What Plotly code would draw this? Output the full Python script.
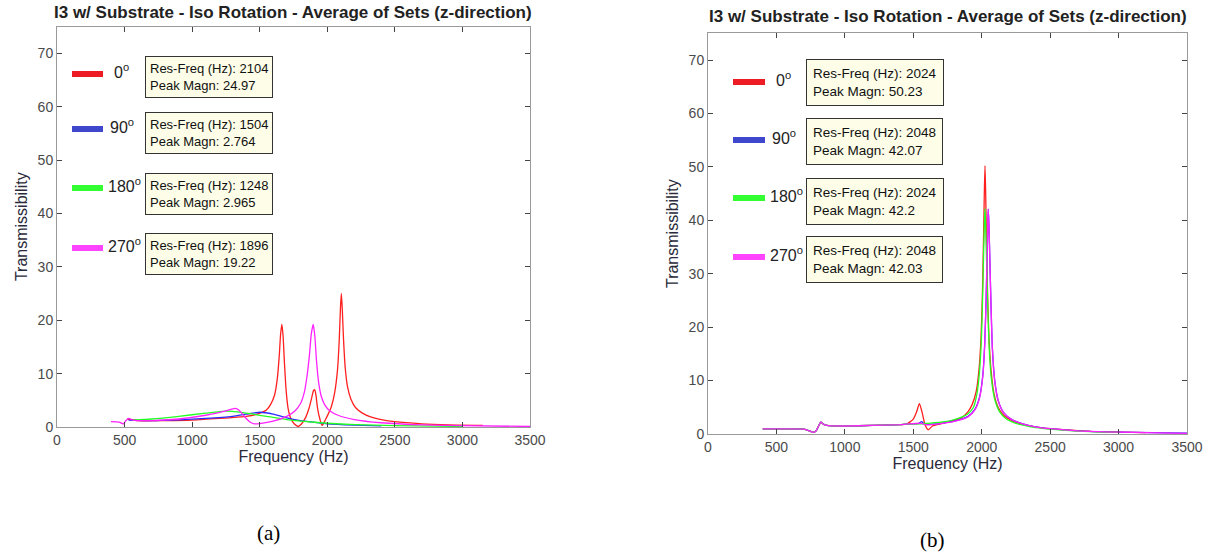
import plotly.graph_objects as go

# ---------------- data ----------------
TITLE = "I3 w/ Substrate - Iso Rotation - Average of Sets (z-direction)"
labels = ["0", "90", "180", "270"]
colors = ["#ff1f1f", "#2b2bff", "#22ff22", "#ff22ff"]
swatch_colors = ["#ed1c24", "#3f48cc", "#33ff33", "#ff44ff"]

# Panel (a)
a_red_f = [520, 600, 800, 1000, 1200, 1400, 1480, 1520, 1550, 1580, 1610, 1630, 1645, 1655, 1664, 1673,
           1683, 1695, 1710, 1730, 1755, 1785,
           1810, 1840, 1865, 1885, 1898, 1907, 1916, 1928, 1945, 1962, 1985, 2010, 2030, 2055, 2075, 2088,
           2097, 2104, 2111, 2120, 2133, 2150, 2175, 2210, 2260, 2320, 2400, 2500, 2700, 2900, 3150]
a_red_v = [1.5, 1.2, 1.2, 1.3, 1.6, 2.0, 2.4, 2.8, 3.2, 4.2, 6.0, 9.0, 13.5, 17.5, 19.2, 17.0,
           12.0, 7.0, 3.5, 1.6, 0.6, 0.1,
           0.6, 1.8, 3.5, 5.5, 6.8, 7.0, 6.0, 3.5, 1.5, 0.3, 1.3, 2.6, 3.8, 6.5, 10.5, 16.0,
           22.0, 25.0, 22.0, 16.5, 11.0, 7.5, 5.2, 3.6, 2.6, 1.9, 1.4, 1.0, 0.6, 0.4, 0.3]

a_blue_f = [530, 700, 900, 1100, 1300, 1400, 1504, 1600, 1700, 1800, 1900, 2000, 2200, 2400]
a_blue_v = [1.3, 1.2, 1.35, 1.6, 2.0, 2.4, 2.76, 2.4, 1.7, 1.2, 0.9, 0.6, 0.35, 0.2]

a_green_f = [560, 700, 900, 1100, 1248, 1350, 1450, 1550, 1700, 1850, 2000, 2200, 2500, 2800, 3000]
a_green_v = [1.3, 1.5, 2.0, 2.6, 2.97, 2.8, 2.4, 2.0, 1.4, 1.0, 0.7, 0.45, 0.25, 0.15, 0.1]

a_mag_f = [400, 460, 490, 510, 530, 560, 700, 900, 1100, 1250, 1300, 1320, 1345, 1370, 1400, 1430, 1460,
           1500, 1600, 1700, 1760, 1800, 1830, 1850, 1868, 1882, 1896, 1908, 1920, 1935, 1955, 1980,
           2020, 2080, 2200, 2400, 2700, 3000, 3500]
a_mag_v = [1.0, 0.9, 0.6, 1.2, 1.6, 1.3, 1.2, 1.5, 2.2, 3.0, 3.4, 3.5, 3.2, 2.5, 1.6, 0.9, 0.6,
           0.65, 1.1, 2.0, 3.0, 4.3, 6.5, 9.5, 13.5, 17.5, 19.2, 17.0, 12.5, 8.5, 5.8, 4.2,
           3.0, 2.2, 1.4, 0.8, 0.4, 0.25, 0.1]

# Panel (b)
b_base_f = [400, 500, 600, 700, 740, 770, 790, 810, 825, 845, 880, 1000, 1200, 1400, 1450]
b_base_v = [0.95, 0.95, 0.95, 0.9, 0.6, 0.3, 0.6, 1.6, 2.2, 1.8, 1.55, 1.5, 1.6, 1.75, 1.85]

b_red_f = [1500, 1525, 1545, 1565, 1585, 1610, 1640, 1700, 1800, 1850, 1900, 1930, 1960, 1980, 1995, 2005,
           2013, 2019, 2024, 2029, 2035, 2043, 2053, 2068, 2090, 2120, 2160, 2220, 2300, 2400, 2500,
           2600, 2800, 3000, 3200]
b_red_v = [2.8, 4.2, 5.7, 4.0, 1.8, 0.8, 1.5, 1.9, 2.6, 3.0, 4.2, 5.5, 8.0, 12.0, 18.0, 26.0,
           36.0, 45.0, 50.23, 45.0, 36.0, 26.0, 18.0, 12.0, 7.5, 5.0, 3.5, 2.5, 1.8, 1.3, 1.0,
           0.8, 0.5, 0.35, 0.25]

b_blue_f = [1540, 1560, 1580, 1600, 1700, 1800, 1900, 1950, 1985, 2008, 2022, 2032, 2040, 2045, 2048,
            2053, 2060, 2068, 2078, 2095, 2120, 2160, 2220, 2300, 2400, 2500, 2700, 3000, 3500]
b_blue_v = [2.0, 2.3, 1.9, 1.8, 2.0, 2.4, 3.3, 4.6, 7.0, 11.0, 17.0, 25.0, 34.0, 40.0, 42.07,
            39.0, 32.0, 24.0, 16.0, 10.0, 6.3, 4.0, 2.7, 1.9, 1.3, 1.0, 0.6, 0.35, 0.15]

b_green_f = [1560, 1600, 1700, 1800, 1900, 1940, 1965, 1985, 1998, 2007, 2014, 2020, 2024, 2029, 2036,
             2044, 2055, 2070, 2095, 2130, 2180, 2250, 2350, 2500, 2700, 3000]
b_green_v = [1.9, 2.0, 2.2, 2.7, 3.8, 5.0, 7.5, 12.0, 18.0, 26.0, 34.0, 40.0, 42.2, 39.0, 32.0,
             24.0, 16.0, 10.5, 6.5, 4.2, 2.8, 2.0, 1.4, 0.9, 0.55, 0.3]

b_mag_f = [1560, 1580, 1600, 1700, 1800, 1900, 1950, 1985, 2008, 2022, 2032, 2040, 2045, 2048,
           2053, 2060, 2068, 2078, 2095, 2120, 2160, 2220, 2300, 2400, 2500, 2700, 3000, 3500]
b_mag_v = [2.0, 1.8, 1.7, 1.95, 2.35, 3.2, 4.5, 6.8, 10.8, 16.8, 25.0, 34.0, 40.0, 42.03,
           39.0, 32.0, 24.0, 16.0, 10.0, 6.3, 4.0, 2.7, 1.9, 1.3, 1.0, 0.6, 0.35, 0.12]

a_res = [("2104", "24.97"), ("1504", "2.764"), ("1248", "2.965"), ("1896", "19.22")]
b_res = [("2024", "50.23"), ("2048", "42.07"), ("2024", "42.2"), ("2048", "42.03")]

x_ticks = [0, 500, 1000, 1500, 2000, 2500, 3000, 3500]
y_ticks = [0, 10, 20, 30, 40, 50, 60, 70]

# ---------------- figure ----------------
W, H = 1210, 559
def px(x):
    return x / W
def py(y):
    return 1 - y / H

fig = go.Figure()

a_series = [(a_red_f, a_red_v), (a_blue_f, a_blue_v), (a_green_f, a_green_v), (a_mag_f, a_mag_v)]
b_series = [(b_base_f + b_red_f, b_base_v + b_red_v),
            (b_base_f + b_blue_f, b_base_v + b_blue_v),
            (b_base_f + b_green_f, b_base_v + b_green_v),
            (b_base_f + b_mag_f, b_base_v + b_mag_v)]

for (f, v), c, lab in zip(a_series, colors, labels):
    fig.add_trace(go.Scatter(x=f, y=v, mode="lines", line=dict(color=c, width=1.3, shape="spline", smoothing=0.6),
                             name=lab + "°", xaxis="x", yaxis="y", showlegend=False))
for (f, v), c, lab in zip(b_series, colors, labels):
    fig.add_trace(go.Scatter(x=f, y=v, mode="lines", line=dict(color=c, width=1.3, shape="spline", smoothing=0.6),
                             name=lab + "°", xaxis="x2", yaxis="y2", showlegend=False))

font = "Liberation Sans, Arial, sans-serif"
axis_common = dict(
    showline=True, linecolor="#9a9a9a", linewidth=1, mirror="ticks",
    ticks="inside", ticklen=5, tickcolor="#444", showgrid=False, zeroline=False,
    tickfont=dict(family=font, size=14, color="#4a4a4a"), automargin=False,
)
title_font = dict(family=font, size=16, color="#2a2a3a")

fig.update_layout(
    width=W, height=H, margin=dict(l=0, r=0, t=0, b=0),
    paper_bgcolor="white", plot_bgcolor="white",
    xaxis=dict(domain=[px(57), px(530)], range=[0, 3500], tickvals=x_ticks, anchor="y",
               title=dict(text="Frequency (Hz)", font=title_font, standoff=4), **axis_common),
    yaxis=dict(domain=[py(427), py(26.5)], range=[0, 75], tickvals=y_ticks, anchor="x",
               title=dict(text="Transmissibility", font=title_font, standoff=6), **axis_common),
    xaxis2=dict(domain=[px(708), px(1187)], range=[0, 3500], tickvals=x_ticks, anchor="y2",
                title=dict(text="Frequency (Hz)", font=title_font, standoff=4), **axis_common),
    yaxis2=dict(domain=[py(434), py(33.3)], range=[0, 75], tickvals=y_ticks, anchor="x2",
                title=dict(text="Transmissibility", font=title_font, standoff=6), **axis_common),
)

ann = []
shapes = []
# titles
ann.append(dict(text="<b>" + TITLE + "</b>", x=px(293), y=py(12), xref="paper", yref="paper",
                xanchor="center", yanchor="middle",
                showarrow=False, font=dict(family=font, size=17, color="#222")))
ann.append(dict(text="<b>" + TITLE + "</b>", x=px(948), y=py(17), xref="paper", yref="paper",
                xanchor="center", yanchor="middle",
                showarrow=False, font=dict(family=font, size=17, color="#222")))
# panel letters
ann.append(dict(text="(a)", x=px(268), y=py(533), xref="paper", yref="paper", showarrow=False,
                xanchor="center", yanchor="middle",
                font=dict(family="Liberation Serif, Times New Roman, serif", size=21, color="black")))
ann.append(dict(text="(b)", x=px(932), y=py(540), xref="paper", yref="paper", showarrow=False,
                xanchor="center", yanchor="middle",
                font=dict(family="Liberation Serif, Times New Roman, serif", size=21, color="black")))

# legends + info boxes
a_sw_y = [74, 129, 188, 248]
a_box_y = [77, 133, 194, 254]
b_sw_y = [82, 140, 198, 257]
b_box_y = [83, 141, 201, 259]
lab_dx = [6, 2, 0, 0]

for i in range(4):
    # panel a
    shapes.append(dict(type="line", xref="paper", yref="paper", x0=px(72), x1=px(103),
                       y0=py(a_sw_y[i]), y1=py(a_sw_y[i]), line=dict(color=swatch_colors[i], width=6)))
    ann.append(dict(text=labels[i] + "<sup>o</sup>", x=px(106 + lab_dx[i]), y=py(a_sw_y[i] - 3),
                    xref="paper", yref="paper", xanchor="left", yanchor="middle", showarrow=False,
                    font=dict(family=font, size=16, color="#222")))
    ann.append(dict(text="Res-Freq (Hz): %s<br>Peak Magn: %s" % a_res[i], x=px(145), y=py(a_box_y[i]),
                    xref="paper", yref="paper", xanchor="left", yanchor="middle", align="left",
                    showarrow=False, bgcolor="#fdfde8", bordercolor="#333", borderwidth=1, borderpad=4,
                    font=dict(family=font, size=13, color="#111")))
    # panel b
    shapes.append(dict(type="line", xref="paper", yref="paper", x0=px(733), x1=px(765),
                       y0=py(b_sw_y[i]), y1=py(b_sw_y[i]), line=dict(color=swatch_colors[i], width=6)))
    ann.append(dict(text=labels[i] + "<sup>o</sup>", x=px(768 + lab_dx[i]), y=py(b_sw_y[i] - 3),
                    xref="paper", yref="paper", xanchor="left", yanchor="middle", showarrow=False,
                    font=dict(family=font, size=16, color="#222")))
    ann.append(dict(text="Res-Freq (Hz): %s<br>Peak Magn: %s" % b_res[i], x=px(806), y=py(b_box_y[i]),
                    xref="paper", yref="paper", xanchor="left", yanchor="middle", align="left",
                    showarrow=False, bgcolor="#fdfde8", bordercolor="#333", borderwidth=1, borderpad=6,
                    font=dict(family=font, size=13.5, color="#111")))

fig.update_layout(annotations=ann, shapes=shapes)
fig.write_html("out.html")
